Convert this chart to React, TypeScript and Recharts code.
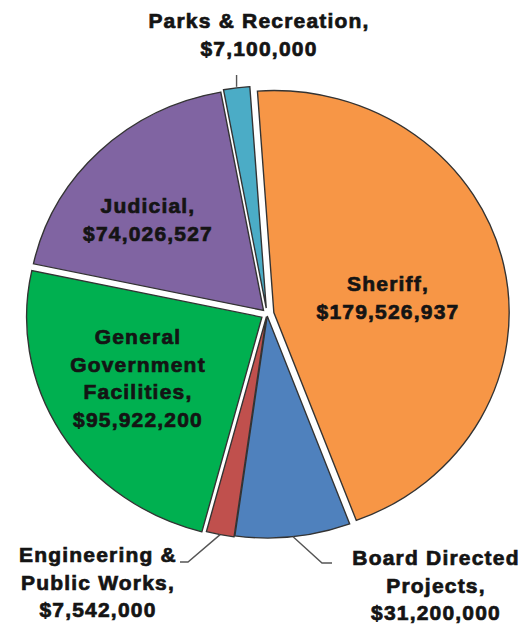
import { Cell, Pie, PieChart, Sector } from 'recharts';

// clockwise from the top, same order as the slices
const departments = [
  'Sheriff',
  'Board Directed Projects',
  'Engineering & Public Works',
  'General Government Facilities',
  'Judicial',
  'Parks & Recreation',
];
const budgets = [179526937, 31200000, 7542000, 95922200, 74026527, 7100000];
const labelLines = [
  ['Sheriff,'],
  ['Board Directed', 'Projects,'],
  ['Engineering &', 'Public Works,'],
  ['General', 'Government', 'Facilities,'],
  ['Judicial,'],
  ['Parks & Recreation,'],
];

const sliceColors = ['#F79646', '#4F81BD', '#C0504D', '#00B050', '#8064A2', '#4BACC6'];
const explode = [7, 2, 3, 6, 5, 6];
const SX = 1.06; // the original pie is a bit wider than tall
const LINE_H = 27.5;

// label anchors (centre x, first baseline) relative to the pie centre
const labelPlace: { dx: number; dy: number; leader?: [number, number][] }[] = [
  { dx: 121, dy: -23 },
  { dx: 169, dy: 251, leader: [[55, 249], [65, 249]] },
  { dx: -169, dy: 248, leader: [[-79, 248], [-87, 248]] },
  { dx: -129, dy: 30 },
  { dx: -119, dy: -101 },
  { dx: -8, dy: -286, leader: [] },
];

const data = departments.map((name, i) => ({ name, value: budgets[i] }));
const fmt = (v: number) => `$${v.toLocaleString('en-US')}`;

function idxOf(props: any) {
  const name = props.name ?? props.payload?.name;
  return departments.indexOf(name);
}

function ExplodedSector(props: any) {
  const { cx, cy, midAngle } = props;
  const i = idxOf(props);
  const e = explode[i] ?? 0;
  const rad = (midAngle * Math.PI) / 180;
  const ox = e * Math.cos(rad);
  const oy = -e * Math.sin(rad);
  return (
    <g transform={`translate(${cx} ${cy}) scale(${SX} 1) translate(${-cx} ${-cy})`}>
      <Sector {...props} cx={cx + ox / SX} cy={cy + oy} />
    </g>
  );
}

function renderLabel(props: any) {
  const { cx, cy, midAngle, outerRadius } = props;
  const i = idxOf(props);
  if (i < 0) return null;
  const place = labelPlace[i];
  const lines = [...labelLines[i], fmt(budgets[i])];
  const rad = (midAngle * Math.PI) / 180;
  const e = explode[i] ?? 0;
  const ex = cx + SX * (outerRadius + e) * Math.cos(rad);
  const ey = cy - (outerRadius + e) * Math.sin(rad);
  let leader: string | null = null;
  if (place.leader) {
    const pts =
      place.leader.length > 0
        ? [[ex, ey], ...place.leader.map(([x, y]) => [cx + x, cy + y])]
        : [[ex, ey - 1], [ex, cy - 239]];
    leader = pts.map((p) => p.join(',')).join(' ');
  }
  return (
    <g key={`lbl-${i}`}>
      {leader && <polyline points={leader} fill="none" stroke="#555" strokeWidth={1.4} />}
      <text
        x={cx + place.dx}
        y={cy + place.dy}
        textAnchor="middle"
        fill="#141414"
        stroke="#141414"
        strokeWidth={0.7}
        fontFamily="'Liberation Sans', Arial, sans-serif"
        fontWeight="bold"
        fontSize={21}
        letterSpacing={1.2}
      >
        {lines.map((ln, k) => (
          <tspan key={k} x={cx + place.dx} dy={k === 0 ? 0 : LINE_H}>
            {ln}
          </tspan>
        ))}
      </text>
    </g>
  );
}

export default function App() {
  return (
    <div style={{ position: 'absolute', left: 0, top: 0, background: '#fff' }}>
      <PieChart width={529} height={632} margin={{ top: 0, right: 0, bottom: 0, left: 0 }}>
        <Pie
          data={data}
          dataKey="value"
          nameKey="name"
          cx={267}
          cy={314}
          outerRadius={222}
          startAngle={94}
          endAngle={-266}
          stroke="#333"
          strokeWidth={1.3}
          shape={ExplodedSector}
          label={renderLabel}
          labelLine={false}
          isAnimationActive={false}
        >
          {data.map((d, i) => (
            <Cell key={d.name} fill={sliceColors[i]} />
          ))}
        </Pie>
      </PieChart>
    </div>
  );
}
